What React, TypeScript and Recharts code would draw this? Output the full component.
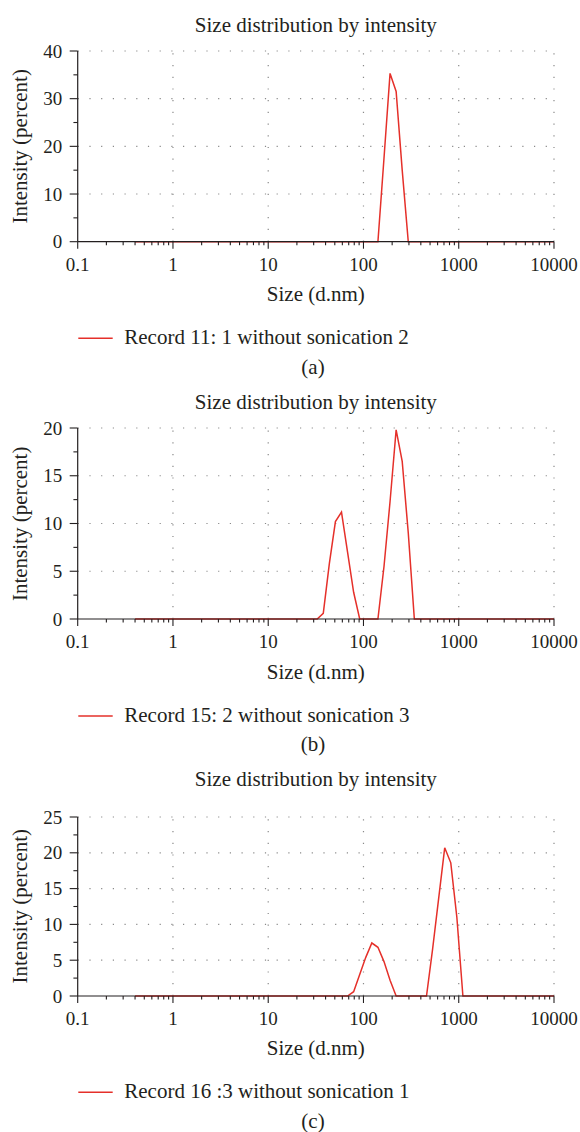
import { LineChart, Line, XAxis, YAxis, ReferenceLine } from "recharts"

// Zetasizer size bins (d.nm)
const sizes = [
  0.4, 0.4632, 0.5365, 0.6213, 0.7195, 0.8332, 0.9649, 1.117, 1.294, 1.499,
  1.736, 2.01, 2.328, 2.696, 3.122, 3.615, 4.187, 4.849, 5.615, 6.503,
  7.531, 8.721, 10.1, 11.7, 13.54, 15.69, 18.17, 21.04, 24.36, 28.21,
  32.67, 37.84, 43.82, 50.75, 58.77, 68.06, 78.82, 91.28, 105.7, 122.4,
  141.8, 164.2, 190.1, 220.2, 255, 295.3, 342, 396.1, 458.7, 531.2,
  615.1, 712.4, 825, 955.4, 1106, 1281, 1484, 1718, 1990, 2305,
  2669, 3091, 3580, 4145, 4801, 5560, 6439, 7456, 8635, 10000,
]

const record11 = [
  0, 0, 0, 0, 0, 0, 0, 0, 0, 0,
  0, 0, 0, 0, 0, 0, 0, 0, 0, 0,
  0, 0, 0, 0, 0, 0, 0, 0, 0, 0,
  0, 0, 0, 0, 0, 0, 0, 0, 0, 0,
  0, 17.5, 35.3, 31.5, 15.0, 0, 0, 0, 0, 0,
  0, 0, 0, 0, 0, 0, 0, 0, 0, 0,
  0, 0, 0, 0, 0, 0, 0, 0, 0, 0,
]

const record15 = [
  0, 0, 0, 0, 0, 0, 0, 0, 0, 0,
  0, 0, 0, 0, 0, 0, 0, 0, 0, 0,
  0, 0, 0, 0, 0, 0, 0, 0, 0, 0,
  0, 0.6, 5.8, 10.2, 11.2, 7.0, 2.8, 0, 0, 0,
  0, 5.5, 12.3, 19.8, 16.5, 9.0, 0, 0, 0, 0,
  0, 0, 0, 0, 0, 0, 0, 0, 0, 0,
  0, 0, 0, 0, 0, 0, 0, 0, 0, 0,
]

const record16 = [
  0, 0, 0, 0, 0, 0, 0, 0, 0, 0,
  0, 0, 0, 0, 0, 0, 0, 0, 0, 0,
  0, 0, 0, 0, 0, 0, 0, 0, 0, 0,
  0, 0, 0, 0, 0, 0, 0.6, 3.0, 5.4, 7.4,
  6.8, 4.8, 2.2, 0, 0, 0, 0, 0, 0, 6.5,
  13.6, 20.7, 18.6, 11.0, 0, 0, 0, 0, 0, 0,
  0, 0, 0, 0, 0, 0, 0, 0, 0, 0,
]

const majorX = [0.1, 1, 10, 100, 1000, 10000]
const minorX = [
  0.2, 0.3, 0.4, 0.5, 0.6, 0.7, 0.8, 0.9,
  2, 3, 4, 5, 6, 7, 8, 9,
  20, 30, 40, 50, 60, 70, 80, 90,
  200, 300, 400, 500, 600, 700, 800, 900,
  2000, 3000, 4000, 5000, 6000, 7000, 8000, 9000,
]
const xTicks = [...majorX, ...minorX].sort((a, b) => a - b)

const yTicksA = [0, 5, 10, 15, 20, 25, 30, 35, 40]
const yTicksB = [0, 2.5, 5, 7.5, 10, 12.5, 15, 17.5, 20]
const yTicksC = [0, 2.5, 5, 7.5, 10, 12.5, 15, 17.5, 20, 22.5, 25]

const FONT = "'Liberation Serif', 'Times New Roman', serif"
const TEXT = "#231f20"
const AXIS = "#231f20"
const RED = "#e5302a"
const GRID = "#8a8a8a"

const PLOT_LEFT = 77.7
const PLOT_RIGHT = 554

const panels = [
  {
    key: "a",
    top: 51,
    bottom: 241.7,
    yMax: 40,
    yTicks: yTicksA,
    majorStep: 10,
    values: record11,
    legend: "Record 11: 1 without sonication 2",
    caption: "(a)",
  },
  {
    key: "b",
    top: 428.3,
    bottom: 619.3,
    yMax: 20,
    yTicks: yTicksB,
    majorStep: 5,
    values: record15,
    legend: "Record 15: 2 without sonication 3",
    caption: "(b)",
  },
  {
    key: "c",
    top: 816.7,
    bottom: 995.7,
    yMax: 25,
    yTicks: yTicksC,
    majorStep: 5,
    values: record16,
    legend: "Record 16 :3 without sonication 1",
    caption: "(c)",
  },
]

const XTick = (props: any) => {
  const { x, y, payload } = props
  const major = majorX.includes(payload.value)
  return (
    <g>
      <line x1={x} x2={x} y1={y} y2={y + (major ? 7 : 3.5)} stroke={AXIS} strokeWidth={1.1} />
      {major && (
        <text x={x} y={y + 29} textAnchor="middle" fontSize={19} fill={TEXT} fontFamily={FONT}>
          {payload.value}
        </text>
      )}
    </g>
  )
}

const makeYTick = (majorStep: number) => (props: any) => {
  const { x, y, payload } = props
  const major = payload.value % majorStep === 0
  return (
    <g>
      <line x1={x - (major ? 8 : 4.3)} x2={x} y1={y} y2={y} stroke={AXIS} strokeWidth={1.1} />
      {major && (
        <text x={x - 15.5} y={y} dy="0.35em" textAnchor="end" fontSize={19} fill={TEXT} fontFamily={FONT}>
          {payload.value}
        </text>
      )}
    </g>
  )
}

const Panel = ({ p }: { p: (typeof panels)[number] }) => {
  const data = sizes.map((s, i) => ({ size: s, value: p.values[i] }))
  const plotH = p.bottom - p.top
  const gridY = p.yTicks.filter((v) => v > 0 && v % p.majorStep === 0)
  return (
    <div style={{ position: "absolute", left: 0, top: p.top - 40 }}>
      <LineChart
        width={580}
        height={plotH + 100}
        data={data}
        margin={{ top: 40, right: 580 - PLOT_RIGHT, left: 0, bottom: 0 }}
      >
        <XAxis
          dataKey="size"
          type="number"
          scale="log"
          domain={[0.1, 10000]}
          allowDataOverflow
          ticks={xTicks}
          interval={0}
          height={60}
          tickSize={0}
          tickMargin={0}
          tickLine={false}
          tick={<XTick />}
          axisLine={{ stroke: AXIS, strokeWidth: 1.2 }}
        />
        <YAxis
          type="number"
          domain={[0, p.yMax]}
          ticks={p.yTicks}
          interval={0}
          width={PLOT_LEFT}
          tickSize={0}
          tickMargin={0}
          tickLine={false}
          tick={makeYTick(p.majorStep)}
          axisLine={{ stroke: AXIS, strokeWidth: 1.2 }}
        />
        {majorX.slice(1).map((v) => (
          <ReferenceLine key={`x${v}`} x={v} stroke={GRID} strokeWidth={1.2} strokeDasharray="1.2 10.5" />
        ))}
        {gridY.map((v) => (
          <ReferenceLine key={`y${v}`} y={v} stroke={GRID} strokeWidth={1.2} strokeDasharray="1.2 10.5" />
        ))}
        <Line
          type="linear"
          dataKey="value"
          stroke={RED}
          strokeWidth={1.5}
          dot={false}
          activeDot={false}
          isAnimationActive={false}
        />
      </LineChart>
    </div>
  )
}

export default function App() {
  const cx = (PLOT_LEFT + PLOT_RIGHT) / 2
  return (
    <div style={{ position: "absolute", left: 0, top: 0, width: 580, height: 1132, background: "#fff" }}>
      {panels.map((p) => (
        <Panel key={p.key} p={p} />
      ))}
      <svg
        width={580}
        height={1132}
        style={{ position: "absolute", left: 0, top: 0, pointerEvents: "none" }}
        fontFamily={FONT}
        fill={TEXT}
      >
        {panels.map((p) => {
          const midY = (p.top + p.bottom) / 2
          return (
            <g key={p.key}>
              <text x={cx} y={p.bottom - 210} textAnchor="middle" fontSize={21}>
                Size distribution by intensity
              </text>
              <text
                x={27.5}
                y={midY}
                textAnchor="middle"
                fontSize={21}
                transform={`rotate(-90 27.5 ${midY})`}
              >
                Intensity (percent)
              </text>
              <text x={cx} y={p.bottom + 59.3} textAnchor="middle" fontSize={21}>
                Size (d.nm)
              </text>
              <line x1={78.3} x2={112.7} y1={p.bottom + 96.6} y2={p.bottom + 96.6} stroke={RED} strokeWidth={1.5} />
              <text x={124.3} y={p.bottom + 102.6} fontSize={21}>
                {p.legend}
              </text>
              <text x={313} y={p.bottom + 132} textAnchor="middle" fontSize={21}>
                {p.caption}
              </text>
            </g>
          )
        })}
      </svg>
    </div>
  )
}
